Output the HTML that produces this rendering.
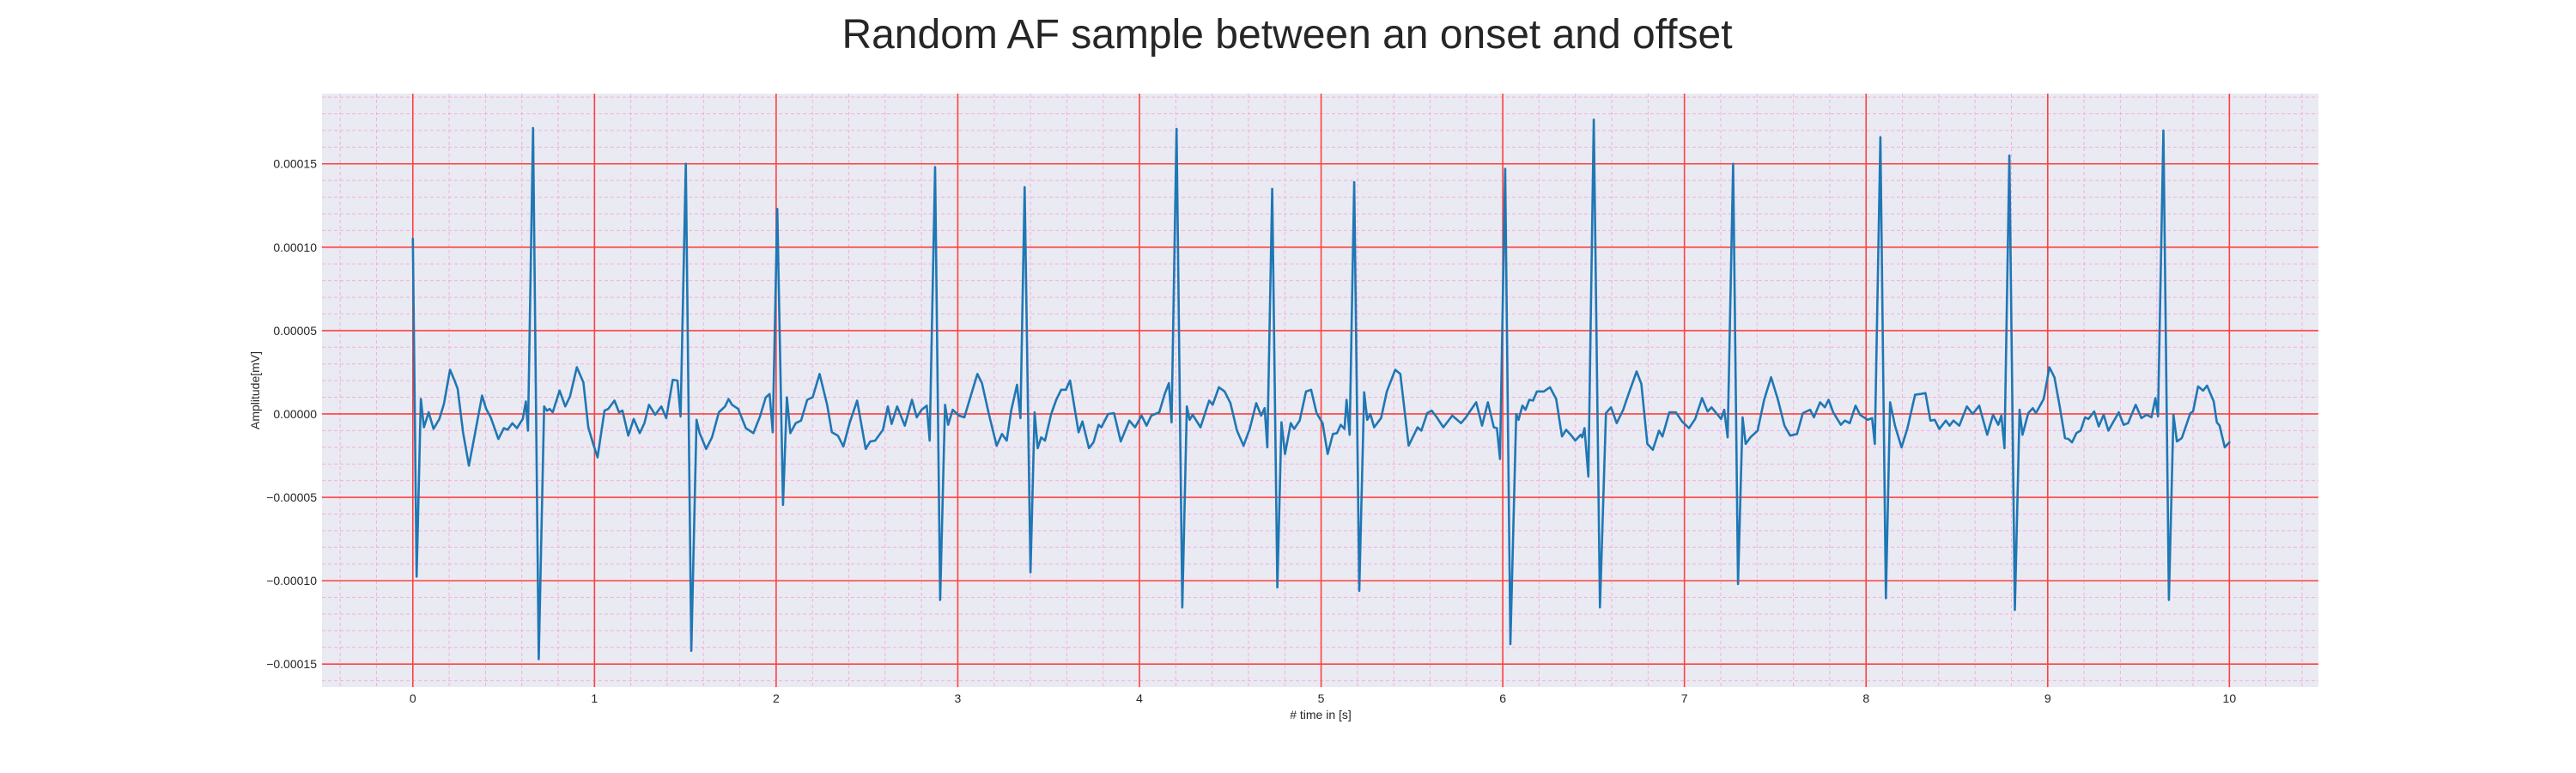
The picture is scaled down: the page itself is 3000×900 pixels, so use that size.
<!DOCTYPE html>
<html>
<head>
<meta charset="utf-8">
<style>
  html,body{margin:0;padding:0;background:#fff;}
  svg{display:block;}
  text{font-family:"Liberation Sans",Arial,sans-serif;fill:#262626;}
</style>
</head>
<body>
<svg id="chart" width="3000" height="900" viewBox="0 0 3000 900" xmlns="http://www.w3.org/2000/svg">
  <rect x="0" y="0" width="3000" height="900" fill="#ffffff"/>
  <text x="1499" y="56" font-size="48" text-anchor="middle">Random AF sample between an onset and offset</text>
  <rect x="375" y="109" width="2325" height="691" fill="#eaeaf2"/>
  <g id="minor-grid"></g>
  <g id="major-grid"></g>
  <g id="series"></g>
  <g id="x-ticks"></g>
  <g id="y-ticks"></g>
  <text x="1538" y="837" font-size="14" text-anchor="middle"># time in [s]</text>
  <text x="0" y="0" font-size="14" text-anchor="middle" transform="translate(302,454.5) rotate(-90)">Amplitude[mV]</text>
</svg>
<script>
// ---- data (time in s, amplitude in units of 1e-5 mV) ----
const times = [0,0.021,0.044,0.061,0.087,0.114,0.146,0.171,0.205,0.230,0.247,0.277,0.309,0.347,0.381,0.404,0.429,0.471,0.501,0.522,0.548,0.573,0.605,0.622,0.634,0.662,0.693,0.723,0.738,0.753,0.770,0.808,0.839,0.865,0.903,0.939,0.966,0.992,1.017,1.055,1.076,1.110,1.135,1.154,1.186,1.216,1.249,1.275,1.300,1.334,1.368,1.395,1.431,1.457,1.474,1.503,1.533,1.562,1.579,1.615,1.647,1.685,1.719,1.738,1.757,1.791,1.833,1.875,1.911,1.943,1.964,1.981,2.006,2.038,2.059,2.078,2.108,2.137,2.171,2.201,2.239,2.281,2.307,2.340,2.370,2.404,2.446,2.493,2.518,2.545,2.588,2.615,2.636,2.666,2.708,2.748,2.774,2.801,2.829,2.845,2.875,2.903,2.930,2.947,2.972,3.006,3.036,3.076,3.108,3.133,3.171,3.214,3.243,3.269,3.294,3.326,3.345,3.368,3.400,3.423,3.440,3.459,3.480,3.514,3.542,3.569,3.595,3.618,3.665,3.686,3.722,3.747,3.775,3.790,3.828,3.860,3.897,3.944,3.976,4.012,4.039,4.065,4.109,4.139,4.162,4.177,4.204,4.236,4.261,4.276,4.293,4.336,4.384,4.403,4.437,4.469,4.501,4.537,4.573,4.607,4.643,4.670,4.689,4.704,4.731,4.759,4.782,4.801,4.833,4.852,4.882,4.917,4.945,4.975,5.008,5.036,5.065,5.087,5.108,5.129,5.140,5.157,5.182,5.210,5.237,5.254,5.271,5.292,5.330,5.362,5.408,5.436,5.482,5.531,5.552,5.584,5.609,5.637,5.673,5.722,5.770,5.797,5.825,5.854,5.886,5.918,5.951,5.968,5.985,6.013,6.042,6.074,6.087,6.108,6.125,6.146,6.167,6.188,6.226,6.260,6.294,6.326,6.349,6.378,6.399,6.429,6.437,6.450,6.471,6.501,6.535,6.568,6.596,6.627,6.663,6.691,6.737,6.763,6.796,6.826,6.860,6.879,6.917,6.953,6.987,7.025,7.059,7.097,7.128,7.149,7.202,7.219,7.238,7.268,7.295,7.320,7.337,7.363,7.403,7.439,7.477,7.515,7.551,7.582,7.620,7.652,7.692,7.713,7.747,7.773,7.794,7.819,7.861,7.883,7.910,7.942,7.967,8.009,8.033,8.048,8.079,8.109,8.132,8.159,8.195,8.227,8.270,8.301,8.327,8.354,8.378,8.403,8.439,8.460,8.481,8.513,8.555,8.587,8.623,8.667,8.699,8.728,8.745,8.762,8.789,8.819,8.845,8.861,8.893,8.918,8.935,8.978,9.009,9.037,9.063,9.095,9.114,9.134,9.158,9.181,9.205,9.224,9.256,9.281,9.308,9.334,9.391,9.418,9.442,9.484,9.516,9.544,9.571,9.593,9.607,9.637,9.667,9.692,9.711,9.738,9.785,9.800,9.828,9.855,9.877,9.914,9.931,9.946,9.975,10.0];
const amplitudes = [10.5,-9.75,0.9,-0.8,0.1,-0.9,-0.3,0.6,2.65,2.0,1.5,-1.15,-3.1,-0.9,1.1,0.3,-0.2,-1.5,-0.85,-0.95,-0.55,-0.85,-0.3,0.75,-1.0,17.15,-14.7,0.45,0.2,0.3,0.1,1.4,0.45,1.05,2.8,1.9,-0.8,-1.75,-2.6,0.2,0.3,0.8,0.1,0.2,-1.3,-0.3,-1.15,-0.55,0.55,-0.05,0.45,-0.25,2.05,2.0,-0.15,15.0,-14.2,-0.35,-1.15,-2.1,-1.4,0.1,0.45,0.9,0.55,0.3,-0.85,-1.15,-0.15,1.0,1.2,-1.1,12.3,-5.45,1.0,-1.15,-0.55,-0.4,0.85,1.0,2.4,0.55,-1.1,-1.3,-1.95,-0.55,0.8,-2.1,-1.65,-1.6,-0.95,0.45,-0.6,0.45,-0.7,0.85,-0.2,0.25,0.5,-1.6,14.8,-11.15,0.55,-0.65,0.25,-0.1,-0.2,1.25,2.4,1.85,0.0,-1.9,-1.2,-1.6,0.2,1.75,-0.25,13.6,-9.5,0.1,-2.05,-1.4,-1.6,0.0,0.85,1.45,1.45,2.0,-1.1,-0.45,-2.05,-1.7,-0.65,-0.8,0.0,0.05,-1.65,-0.4,-0.8,-0.1,-0.7,-0.1,0.1,1.2,1.85,-0.5,17.1,-11.6,0.45,-0.35,-0.05,-0.8,0.8,0.55,1.6,1.35,0.65,-1.0,-1.9,-0.9,0.65,-0.1,0.35,-2.0,13.5,-10.4,-0.5,-2.4,-0.55,-0.9,-0.4,1.35,1.45,0.05,-0.55,-2.4,-1.2,-1.15,-0.65,-0.9,0.85,-1.25,13.9,-10.6,1.3,-0.35,0.0,-0.8,-0.25,1.35,2.65,2.4,-1.9,-0.8,-1.0,0.05,0.2,-0.2,-0.8,-0.1,-0.55,-0.2,0.25,0.7,-0.7,0.7,-0.8,-0.85,-2.7,14.7,-13.8,0.0,-0.35,0.5,0.25,0.85,0.8,1.35,1.35,1.6,0.9,-1.35,-0.95,-1.3,-1.6,-1.25,-1.4,-0.85,-3.75,17.65,-11.6,0.05,0.4,-0.55,0.25,1.15,2.55,1.8,-1.8,-2.15,-1.0,-1.35,0.1,0.1,-0.45,-0.85,-0.3,0.95,0.15,0.4,-0.3,0.25,-1.4,15.0,-10.2,-0.2,-1.8,-1.4,-1.0,0.85,2.2,0.85,-0.7,-1.3,-1.2,0.05,0.25,-0.2,0.7,0.4,0.85,0.1,-0.65,-0.4,-0.55,0.5,-0.05,-0.35,-0.25,-1.8,16.6,-11.05,0.7,-0.7,-2.0,-0.9,1.15,1.2,1.25,-0.4,-0.35,-0.9,-0.4,-0.7,-0.4,-0.7,0.45,0.0,0.5,-1.25,-0.05,-0.65,-0.1,-2.05,15.5,-11.75,0.25,-1.25,0.05,0.35,0.05,0.9,2.8,2.2,0.63,-1.45,-1.5,-1.7,-1.15,-1.0,-0.2,-0.3,0.15,-0.75,-0.05,-1.0,0.1,-0.65,-0.55,0.55,-0.25,-0.05,-0.2,0.95,-0.15,17.0,-11.15,-0.05,-1.65,-1.45,0.05,0.15,1.65,1.4,1.7,0.75,-0.5,-0.7,-2.0,-1.7];
const xTickValues = [0,1,2,3,4,5,6,7,8,9,10];
const xTickLabels = ["0","1","2","3","4","5","6","7","8","9","10"];
const yTickValues = [0.00015,0.0001,0.00005,0,-0.00005,-0.0001,-0.00015];
const yTickLabels = ["0.00015","0.00010","0.00005","0.00000","\u22120.00005","\u22120.00010","\u22120.00015"];

const SVGNS = "http://www.w3.org/2000/svg";
const PL = 375, PR = 2700, PT = 109, PB = 800;
const XMIN = -0.5, XMAX = 10.49, YMIN = -0.0001638, YMAX = 0.0001921;
function xScale(t){ return PL + (t - XMIN) / (XMAX - XMIN) * (PR - PL); }
function yScale(v){ return PB - (v - YMIN) / (YMAX - YMIN) * (PB - PT); }
function mk(tag, attrs){ const e = document.createElementNS(SVGNS, tag); for (const k in attrs) e.setAttribute(k, attrs[k]); return e; }

const minorG = document.getElementById('minor-grid');
const majorG = document.getElementById('major-grid');
for (let i = -2; i <= 52; i++) {
  const t = i * 0.2;
  if (i % 5 === 0) continue;
  const x = xScale(t);
  if (x < PL || x > PR) continue;
  const l = mk('line', {x1:x, x2:x, y1:PT, y2:PB, stroke:'#f2b0e0', 'stroke-width':1, 'stroke-dasharray':'4,3'});
  
  
  minorG.appendChild(l);
}
for (let i = -17; i <= 19; i++) {
  if (i % 5 === 0) continue;
  const y = yScale(i * 0.00001);
  if (y < PT || y > PB) continue;
  const l = mk('line', {x1:PL, x2:PR, y1:y, y2:y, stroke:'#f2b0e0', 'stroke-width':1, 'stroke-dasharray':'4,3'});
  
  
  minorG.appendChild(l);
}
const xt = document.getElementById('x-ticks');
xTickValues.forEach((t, i) => {
  const x = xScale(t);
  const l = mk('line', {x1:x, x2:x, y1:PT, y2:PB, stroke:'#ff4040', 'stroke-width':1.6});
  
  
  majorG.appendChild(l);
  const tx = mk('text', {x:x, y:818, 'font-size':14, 'text-anchor':'middle'});
  tx.textContent = xTickLabels[i];
  
  
  xt.appendChild(tx);
});
const yt = document.getElementById('y-ticks');
yTickValues.forEach((v, i) => {
  const y = yScale(v);
  const l = mk('line', {x1:PL, x2:PR, y1:y, y2:y, stroke:'#ff4040', 'stroke-width':1.6});
  
  
  majorG.appendChild(l);
  const tx = mk('text', {x:369, y:y + 5, 'font-size':14, 'text-anchor':'end'});
  tx.textContent = yTickLabels[i];
  
  
  yt.appendChild(tx);
});
const pts = times.map((t, i) => xScale(t).toFixed(1) + ',' + yScale(amplitudes[i] * 1e-5).toFixed(1)).join(' ');
const line = mk('polyline', {points:pts, fill:'none', stroke:'#1f77b4', 'stroke-width':2.6, 'stroke-linejoin':'round', 'stroke-linecap':'round'});


document.getElementById('series').appendChild(line);
</script>
</body>
</html>
